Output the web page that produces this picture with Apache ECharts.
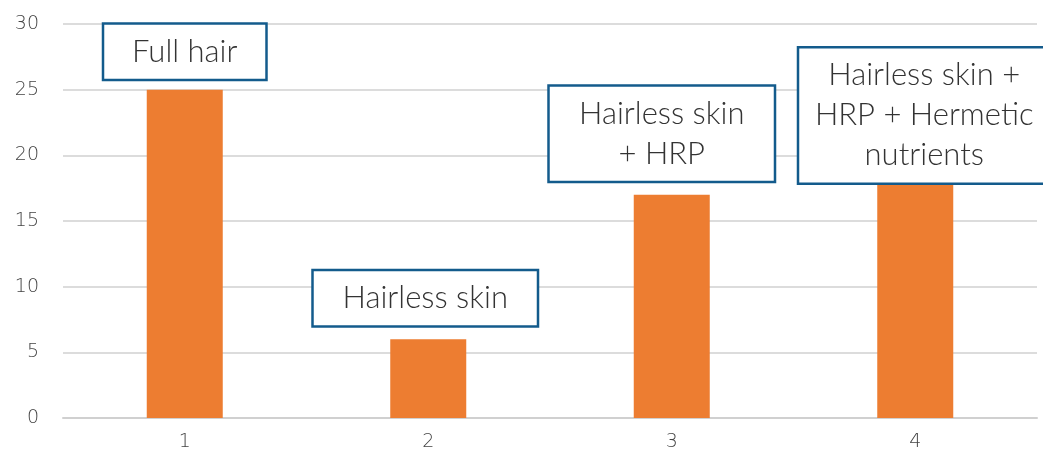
<!DOCTYPE html>
<html><head><meta charset="utf-8">
<script src="https://cdn.jsdelivr.net/npm/echarts@6/dist/echarts.min.js"></script>
<style>html,body{margin:0;padding:0;background:#fff}#c{width:1043px;height:469px}</style>
</head><body><div id="c"></div>
<script>
const categories = ['1', '2', '3', '4'];
const values = [25, 6, 17, 19];
const annotations = ['Full hair', 'Hairless skin', 'Hairless skin\n+ HRP', 'Hairless skin +\nHRP + Hermetic\nnutrients'];
const yTicks = [0, 5, 10, 15, 20, 25, 30];

const labelLayout = [
  {w: 165, dx: 0, dist: 11},
  {w: 227, dx: -3, dist: 14},
  {w: 228, dx: -10, dist: 14},
  {w: 254, dx: 9, dist: -14}
];

const chart = echarts.init(document.getElementById('c'));
chart.setOption({
  animation: false,
  grid: {left: 63, right: 6, top: 24, bottom: 51},
  xAxis: {
    type: 'category', data: categories,
    axisLine: {lineStyle: {color: '#d0d0d0', width: 2}},
    axisTick: {show: false},
    axisLabel: {color: '#444', fontSize: 19, margin: 15, fontFamily: 'DejaVu Sans', fontWeight: 300}
  },
  yAxis: {
    type: 'value', min: yTicks[0], max: yTicks[yTicks.length - 1], interval: 5,
    axisLine: {show: false}, axisTick: {show: false},
    axisLabel: {color: '#444', fontSize: 19, margin: 24, fontFamily: 'DejaVu Sans', fontWeight: 300},
    splitLine: {lineStyle: {color: '#dcdcdc', width: 2}}
  },
  series: [{
    type: 'bar', barWidth: 76,
    itemStyle: {color: '#ED7D31'},
    data: values.map((v, i) => ({
      value: v,
      label: {
        show: true, position: 'top', distance: labelLayout[i].dist,
        offset: [labelLayout[i].dx, 0],
        formatter: annotations[i],
        width: labelLayout[i].w - 4, align: 'center',
        backgroundColor: '#fff', borderColor: '#135b8c', borderWidth: 2.5,
        padding: [7, 0, 7, 0], lineHeight: 40,
        color: '#333', fontSize: 31, fontFamily: 'Lato', fontWeight: 300
      }
    }))
  }]
});
</script></body></html>
